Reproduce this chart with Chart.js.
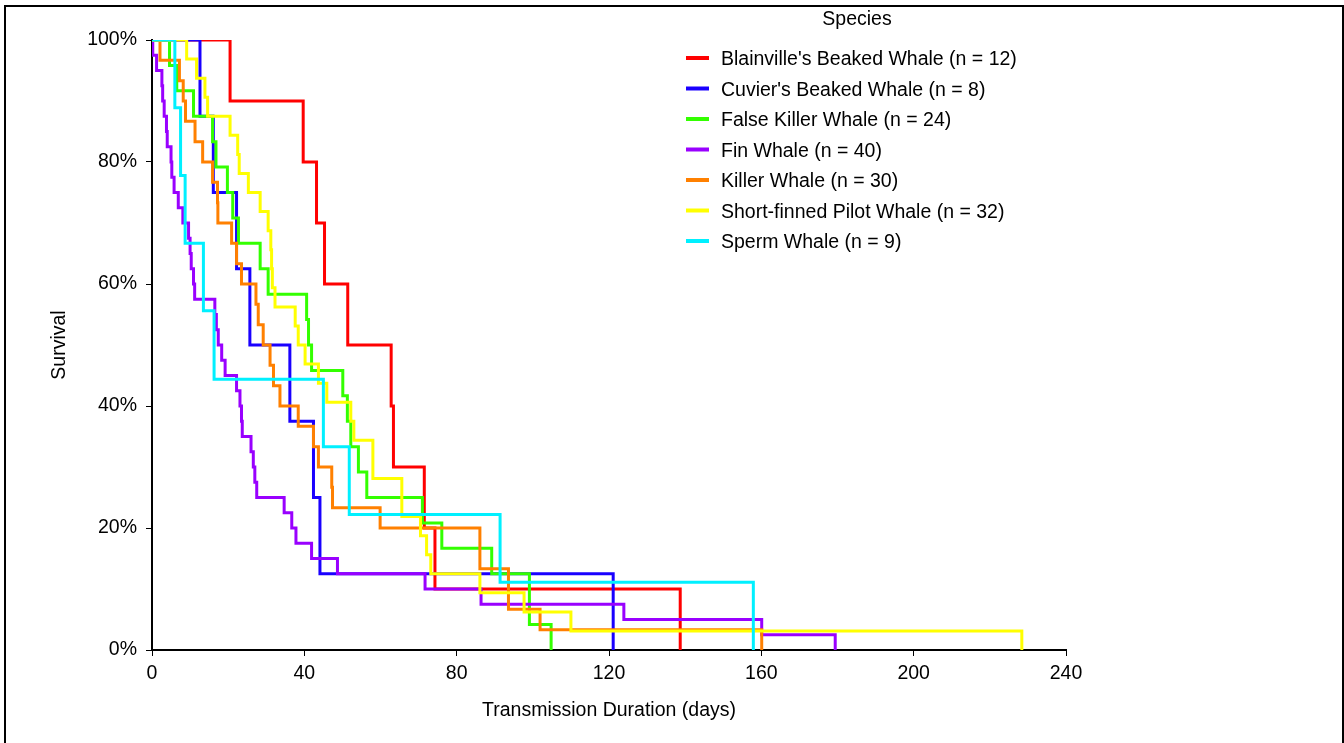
<!DOCTYPE html>
<html>
<head>
<meta charset="utf-8">
<script src="https://cdn.jsdelivr.net/npm/chart.js@4"></script>
<style>
  body { margin: 0; background: #fff; }
  #wrap { position: relative; width: 1344px; height: 743px; }
</style>
</head>
<body>
<div id="wrap"><canvas id="myChart"></canvas></div>
<script>
// survival curves, [day, survival %]
blainville = [[0,100],[20.5,90],[39.7,80],[43.2,70],[45.3,60],[51.4,50],[62.8,40],[63.4,30],[71.5,20],[74.3,10],[138.7,0]];
cuvier = [[0,100],[12.6,87.5],[16.1,75],[22.2,62.5],[25.7,50],[36.2,37.5],[42.4,25],[44.1,12.5],[121.1,0]];
falseKiller = [[0,100],[4.6,95.8],[6.5,91.7],[10.9,87.5],[15.9,83.3],[16.8,79.2],[19.8,75],[21.2,70.8],[22.7,66.7],[28.4,62.5],[30.5,58.3],[40.6,54.2],[41.1,50],[41.9,45.8],[50.1,41.7],[51.3,37.5],[52.2,33.3],[54.2,29.2],[56.4,25],[71,20.8],[76.1,16.7],[89.2,12.5],[99.1,4.2],[104.8,0]];
fin = [[0,100],[0.2,97.5],[1.2,95],[2.6,92.5],[2.8,90],[3.2,87.5],[3.8,85],[4.0,82.5],[5.0,80],[5.2,77.5],[5.8,75],[6.9,72.5],[8.1,70],[9.6,67.5],[10.0,65],[10.3,62.5],[10.9,60],[11.2,57.5],[16.5,55],[16.9,52.5],[17.4,50],[18.3,47.5],[19.2,45],[22.2,42.5],[23.1,40],[23.5,37.5],[23.7,35],[26.0,32.5],[26.6,30],[27.0,27.5],[27.5,25],[34.7,22.5],[36.7,20],[37.8,17.5],[41.9,15],[48.7,12.5],[71.7,10],[86.4,7.5],[123.9,5],[160.1,2.5],[179.4,0]];
killer = [[0,100],[2.1,96.7],[7.2,93.3],[8.2,90],[8.8,86.7],[11.3,83.3],[13.3,80],[15.9,76.7],[17.2,73.3],[17.3,70],[20.9,66.7],[22.2,63.3],[23.5,60],[27.3,56.7],[27.9,53.3],[29.2,50],[31,46.7],[31.9,43.3],[33.6,40],[38.4,36.7],[42.4,33.3],[43.7,30],[47.2,26.7],[47.4,23.3],[59.9,20],[86.1,13.3],[93.6,6.7],[101.9,3.3],[160.1,0]];
pilot = [[0,100],[9.1,96.9],[11.7,93.75],[13.9,90.6],[14.6,87.5],[20.5,84.4],[22.5,81.25],[22.9,78.1],[25.3,75],[28.4,71.9],[30.5,68.75],[31.2,65.6],[31.4,62.5],[31.6,59.4],[32.3,56.25],[37.6,53.1],[38.4,50],[40.2,46.9],[43.7,43.75],[45.9,40.6],[52.2,37.5],[53,34.4],[58,28.1],[65.6,21.9],[70.5,18.75],[72.1,15.6],[73.2,12.5],[86.1,9.4],[97.7,6.25],[110,3.125],[228.4,0]];
sperm = [[0,100],[6.0,88.9],[7.5,77.8],[8.7,66.7],[13.5,55.6],[16.3,44.4],[45,33.3],[51.8,22.2],[91.4,11.1],[157.9,0]];

speciesNames = ["Blainville's Beaked Whale (n = 12)", "Cuvier's Beaked Whale (n = 8)", "False Killer Whale (n = 24)",
  "Fin Whale (n = 40)", "Killer Whale (n = 30)", "Short-finned Pilot Whale (n = 32)", "Sperm Whale (n = 9)"];
speciesColors = ['#FF0000', '#1A00FF', '#33FF00', '#9900FF', '#FF8000', '#FFFF00', '#00F0FF'];
curves = [blainville, cuvier, falseKiller, fin, killer, pilot, sperm];

xTicks = [0, 40, 80, 120, 160, 200, 240];
yTicks = [0, 20, 40, 60, 80, 100];

FONT = '"Liberation Sans", Arial, sans-serif';
FS = 19.5;

datasets = curves.map((c, i) => ({
  label: speciesNames[i],
  data: c.map(p => ({x: p[0], y: p[1]})),
  borderColor: speciesColors[i],
  backgroundColor: speciesColors[i],
  borderWidth: 3,
  pointRadius: 0,
  stepped: true,
  fill: false,
  order: curves.length - i
}));

// legend in the top right, plus the frame round the figure
legendPlugin = {
  id: 'speciesLegend',
  afterDraw(chart) {
    const ctx = chart.ctx;
    ctx.save();
    ctx.fillStyle = '#000';
    ctx.font = FS + 'px ' + FONT;
    ctx.textBaseline = 'middle';
    ctx.textAlign = 'center';
    ctx.fillText('Species', 857, 20);
    ctx.textAlign = 'left';
    speciesNames.forEach((name, i) => {
      const y = 58 + i * 30.5;
      ctx.strokeStyle = speciesColors[i];
      ctx.lineWidth = 4;
      ctx.beginPath();
      ctx.moveTo(686, y);
      ctx.lineTo(709, y);
      ctx.stroke();
      ctx.fillStyle = '#000';
      ctx.fillText(name, 721, y + 2);
    });
    ctx.strokeStyle = '#000';
    ctx.lineWidth = 2;
    ctx.beginPath();
    ctx.moveTo(5, 750);
    ctx.lineTo(5, 6);
    ctx.lineTo(1343, 6);
    ctx.lineTo(1343, 750);
    ctx.stroke();
    ctx.restore();
  }
};

ctx = document.getElementById('myChart').getContext('2d');

new Chart(ctx, {
  type: 'line',
  data: { datasets: datasets },
  plugins: [legendPlugin],
  options: {
    responsive: true,
    maintainAspectRatio: false,
    animation: false,
    layout: { padding: { left: 0, top: 40, right: 278, bottom: 0 } },
    scales: {
      x: {
        type: 'linear',
        min: 0,
        max: 240,
        afterFit: s => { s.height = 93; },
        afterBuildTicks: s => { s.ticks = xTicks.map(v => ({value: v})); },
        grid: { drawOnChartArea: false, tickLength: 6, tickColor: '#000', tickWidth: 1 },
        border: { color: '#000', width: 2 },
        ticks: { color: '#000', padding: 6, maxRotation: 0, font: { family: FONT, size: FS } },
        title: { display: true, text: 'Transmission Duration (days)', color: '#000',
          font: { family: FONT, size: FS }, padding: { bottom: 21 } }
      },
      y: {
        min: 0,
        max: 100,
        afterFit: s => { s.width = 152; },
        afterBuildTicks: s => { s.ticks = yTicks.map(v => ({value: v})); },
        grid: { drawOnChartArea: false, tickLength: 6, tickColor: '#000', tickWidth: 1 },
        border: { color: '#000', width: 2 },
        ticks: { color: '#000', padding: 9, font: { family: FONT, size: FS }, callback: v => v + '%' },
        title: { display: true, text: 'Survival', color: '#000',
          font: { family: FONT, size: FS }, padding: { top: 48 } }
      }
    },
    plugins: {
      legend: { display: false },
      tooltip: { enabled: false }
    }
  }
});
</script>
</body>
</html>
